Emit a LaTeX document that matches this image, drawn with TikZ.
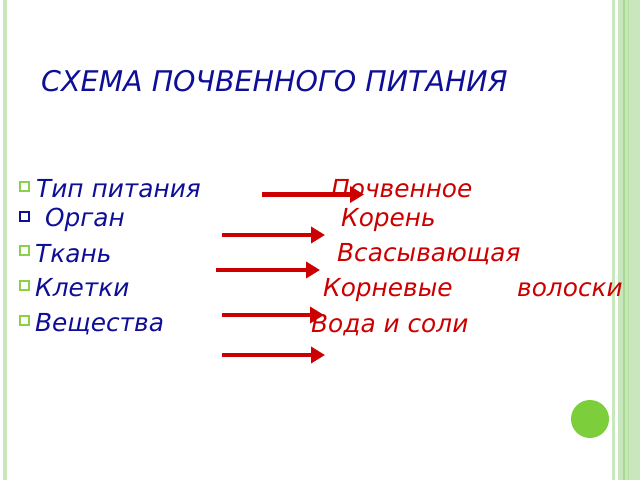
\documentclass[tikz,border=0pt]{standalone}
\usepackage{fontspec}
\setmainfont{DejaVu Sans}
\usetikzlibrary{arrows.meta}
\definecolor{navy}{HTML}{0E0E96}
\definecolor{redt}{HTML}{CC0000}
\definecolor{lgreen}{HTML}{C9E7BD}
\definecolor{mgreen}{HTML}{A6DA8C}
\definecolor{bgreen}{HTML}{7CCF3A}
\definecolor{bulletg}{HTML}{8CD04A}
\tikzset{
  lefttxt/.style={anchor=base west, inner sep=0pt, text=navy, font=\fontsize{24.8}{28}\selectfont\itshape},
  righttxt/.style={anchor=base west, inner sep=0pt, text=redt, font=\fontsize{24.8}{28}\selectfont\itshape},
  bulletbox/.style={draw=bulletg, line width=2pt, fill=white, minimum size=9pt, inner sep=0pt},
  redarrow/.style={draw=redt, line width=4.6pt, -{Triangle[length=14pt,width=16pt]}},
}
\begin{document}
\begin{tikzpicture}[x=1pt,y=-1pt]
\useasboundingbox (0,0) rectangle (640,480);
\fill[white] (0,0) rectangle (640,480);
% borders
\fill[lgreen] (3.3,0) rectangle (7.3,480);
\fill[lgreen] (612,0) rectangle (615,480);
\fill[lgreen] (618,0) rectangle (640,480);
\fill[mgreen] (622.5,0) rectangle (625,480);
\fill[mgreen!60!lgreen] (627.5,0) rectangle (628.5,480);
% title
\node[anchor=base west, inner sep=0pt, text=navy, font=\fontsize{28.5}{32}\selectfont\itshape] (title) at (41,91) {СХЕМА ПОЧВЕННОГО ПИТАНИЯ};
% bullets
\node[bulletbox] (b1) at (24.5,186) {};
\node[bulletbox, draw=navy] (b2) at (24.5,216) {};
\node[bulletbox] (b3) at (24.5,250.5) {};
\node[bulletbox] (b4) at (24.5,285.5) {};
\node[bulletbox] (b5) at (24.5,320) {};
% left texts
\node[lefttxt] (l1) at (36,197) {Тип питания};
\node[lefttxt] (l2) at (37,226) {\ Орган};
\node[lefttxt] (l3) at (35,262) {Ткань};
\node[lefttxt] (l4) at (35,296) {Клетки};
\node[lefttxt] (l5) at (35,331) {Вещества};
% right texts
\node[righttxt] (r1) at (331,197) {Почвенное};
\node[righttxt] (r2) at (341,226) {Корень};
\node[righttxt] (r3) at (337,261) {Всасывающая};
\node[righttxt] (r4) at (323,296) {Корневые};
\node[righttxt] (r4b) at (517,296) {волоски};
\node[righttxt] (r5) at (311,332) {Вода и соли};
% arrows
\coordinate (a1s) at (262,194.5); \coordinate (a1e) at (364,194.5);
\coordinate (a2s) at (222,235); \coordinate (a2e) at (325,235);
\coordinate (a3s) at (216,270); \coordinate (a3e) at (320,270);
\coordinate (a4s) at (222,315); \coordinate (a4e) at (324,315);
\coordinate (a5s) at (222,355); \coordinate (a5e) at (325,355);
\draw[redarrow] (a1s) -- (a1e);
\draw[redarrow] (a2s) -- (a2e);
\draw[redarrow] (a3s) -- (a3e);
\draw[redarrow] (a4s) -- (a4e);
\draw[redarrow] (a5s) -- (a5e);
% circle
\fill[bgreen] (590,419) circle (19);
\end{tikzpicture}
\end{document}
